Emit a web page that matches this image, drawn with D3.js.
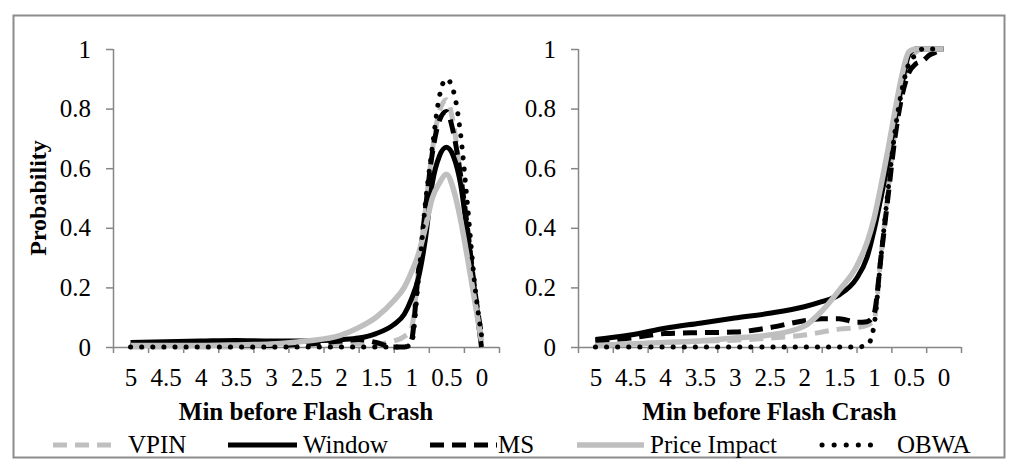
<!DOCTYPE html>
<html>
<head>
<meta charset="utf-8">
<script src="https://cdn.jsdelivr.net/npm/d3@7"></script>
<style>
  html, body { margin: 0; padding: 0; background: #fff; }
  svg { display: block; }
  text { font-family: "Liberation Serif", "Times New Roman", serif; fill: #000; }
</style>
</head>
<body>
<svg id="chart" width="1024" height="473"></svg>
<script>
// ---------- data ----------
const minutes = [5, 4.5, 4, 3.5, 3, 2.5, 2, 1.75, 1.5, 1.25, 1.1, 1, 0.9, 0.8, 0.7, 0.6, 0.5, 0.4, 0.3, 0.2, 0.1, 0];
const xTickLabels = ["5", "4.5", "4", "3.5", "3", "2.5", "2", "1.5", "1", "0.5", "0"];
const xTickValues = [5, 4.5, 4, 3.5, 3, 2.5, 2, 1.5, 1, 0.5, 0];
const yTickValues = [0, 0.2, 0.4, 0.6, 0.8, 1];
const yTickLabels = ["0", "0.2", "0.4", "0.6", "0.8", "1"];
const seriesNames = ["VPIN", "Window", "MS", "Price Impact", "OBWA"];
const xTitle = "Min before Flash Crash";
const yTitle = "Probability";

// left panel (probability density)
const leftVPIN   = [0, 0, 0, 0, 0, 0.005, 0.01, 0.01, 0.01, 0.02, 0.035, 0.06, 0.25, 0.46, 0.66, 0.79, 0.83, 0.75, 0.58, 0.40, 0.20, 0.03];
const leftWindow = [0.015, 0.018, 0.02, 0.022, 0.02, 0.02, 0.025, 0.03, 0.045, 0.075, 0.11, 0.16, 0.23, 0.36, 0.55, 0.64, 0.67, 0.64, 0.55, 0.38, 0.19, 0];
const leftMS     = [0.005, 0.005, 0.005, 0.005, 0.005, 0.01, 0.02, 0.025, 0.015, 0, 0, 0.02, 0.25, 0.46, 0.65, 0.76, 0.79, 0.72, 0.58, 0.40, 0.20, 0.04];
const leftPI     = [0.005, 0.005, 0.005, 0.007, 0.01, 0.02, 0.04, 0.065, 0.10, 0.155, 0.20, 0.25, 0.31, 0.40, 0.50, 0.55, 0.58, 0.53, 0.43, 0.30, 0.16, 0.02];
const leftOBWA   = [0, 0, 0, 0, 0, 0, 0, 0, 0, 0, 0, 0.01, 0.22, 0.48, 0.67, 0.84, 0.90, 0.86, 0.72, 0.48, 0.22, 0.04];

// right panel (cumulative probability)
const rightVPIN   = [0.005, 0.01, 0.015, 0.02, 0.023, 0.03, 0.04, 0.05, 0.06, 0.065, 0.073, 0.09, 0.30, 0.52, 0.72, 0.87, 0.96, 0.99, 1, 1, 1, 1];
const rightWindow = [0.025, 0.04, 0.063, 0.08, 0.097, 0.113, 0.135, 0.152, 0.175, 0.23, 0.30, 0.39, 0.50, 0.62, 0.76, 0.88, 0.98, 1, 1, 1, 1, 1];
const rightMS     = [0.02, 0.03, 0.045, 0.048, 0.05, 0.065, 0.088, 0.095, 0.095, 0.083, 0.085, 0.11, 0.30, 0.50, 0.70, 0.84, 0.92, 0.95, 0.96, 0.98, 0.99, 1];
const rightPI     = [0.005, 0.01, 0.015, 0.02, 0.03, 0.04, 0.07, 0.12, 0.19, 0.27, 0.35, 0.43, 0.54, 0.66, 0.79, 0.91, 0.99, 1, 1, 1, 1, 1];
const rightOBWA   = [0, 0, 0, 0, 0, 0, 0, 0, 0, 0, 0.005, 0.07, 0.30, 0.52, 0.72, 0.86, 0.95, 0.98, 1, 1, 1, 1];

// ---------- styling ----------
const styles = {
  "VPIN":         { color: "#bfbfbf", width: 5,   dash: "14,8",  cap: "butt" },
  "Window":       { color: "#000000", width: 5,   dash: null,    cap: "butt" },
  "MS":           { color: "#000000", width: 5,   dash: "14,8",  cap: "butt" },
  "Price Impact": { color: "#bfbfbf", width: 5.5, dash: null,    cap: "butt" },
  "OBWA":         { color: "#000000", width: 5,   dash: "0.1,11", cap: "round" }
};
const axisColor = "#868686";
const fontSize = 25;

const svg = d3.select("#chart");

// outer border
svg.append("rect")
  .attr("x", 13.5).attr("y", 15.5).attr("width", 991).attr("height", 442)
  .attr("fill", "none").attr("stroke", "#8c8c8c").attr("stroke-width", 2);

function drawPanel(x0, x1, seriesData, showYTitle) {
  const yTop = 49, yBot = 347;
  const x = d3.scaleLinear().domain([5.25, -0.25]).range([x0, x1]);
  const y = d3.scaleLinear().domain([0, 1]).range([yBot, yTop]);
  const g = svg.append("g");

  // y axis
  const yAxis = g.append("g").attr("transform", `translate(${x0},0)`)
    .call(d3.axisLeft(y).tickValues(yTickValues).tickSize(7).tickPadding(15)
      .tickFormat((d, i) => yTickLabels[i]));
  yAxis.select(".domain").attr("stroke", axisColor).attr("stroke-width", 1.5)
    .attr("d", `M0.5,${yTop}V${yBot}`);
  yAxis.selectAll(".tick line").attr("stroke", axisColor).attr("stroke-width", 1.5);
  yAxis.selectAll(".tick text").style("font-size", fontSize + "px")
    .style("font-family", '"Liberation Serif", "Times New Roman", serif').attr("fill", "#000");

  // x axis: boundary tick marks
  const boundaries = d3.range(12).map(i => 5.25 - i * 0.5);
  const xAxisTicks = g.append("g").attr("transform", `translate(0,${yBot})`)
    .call(d3.axisBottom(x).tickValues(boundaries).tickSize(6).tickFormat(""));
  xAxisTicks.select(".domain").attr("stroke", axisColor).attr("stroke-width", 1.5)
    .attr("d", `M${x0},0.5H${x1}`);
  xAxisTicks.selectAll(".tick line").attr("stroke", axisColor).attr("stroke-width", 1.5);

  // x axis: category labels
  const xAxisLabels = g.append("g").attr("transform", `translate(0,${yBot})`)
    .call(d3.axisBottom(x).tickValues(xTickValues).tickSize(0).tickPadding(21)
      .tickFormat((d, i) => xTickLabels[i]));
  xAxisLabels.select(".domain").remove();
  xAxisLabels.selectAll(".tick text").style("font-size", fontSize + "px")
    .style("font-family", '"Liberation Serif", "Times New Roman", serif').attr("fill", "#000");

  // x title
  g.append("text").attr("x", (x0 + x1) / 2).attr("y", 420)
    .attr("text-anchor", "middle").style("font-size", fontSize + "px").style("font-weight", "bold")
    .text(xTitle);

  if (showYTitle) {
    g.append("text").attr("transform", `translate(46,${(yTop + yBot) / 2}) rotate(-90)`)
      .attr("text-anchor", "middle").style("font-size", "24px").style("font-weight", "bold")
      .text(yTitle);
  }

  // lines
  const line = d3.line().x((d, i) => x(minutes[i])).y(d => y(d)).curve(d3.curveMonotoneX);
  seriesNames.forEach((name, k) => {
    const s = styles[name];
    g.append("path").datum(seriesData[k])
      .attr("d", line)
      .attr("fill", "none")
      .attr("stroke", s.color)
      .attr("stroke-width", s.width)
      .attr("stroke-linecap", s.cap)
      .attr("stroke-linejoin", "round")
      .attr("stroke-dasharray", s.dash);
  });
}

drawPanel(113, 499, [leftVPIN, leftWindow, leftMS, leftPI, leftOBWA], true);
drawPanel(578, 961, [rightVPIN, rightWindow, rightMS, rightPI, rightOBWA], false);

// legend
const legendItems = [
  { name: "VPIN",         sx0: 53,  sx1: 113, tx: 128 },
  { name: "Window",       sx0: 228, sx1: 297, tx: 303 },
  { name: "MS",           sx0: 430, sx1: 497, tx: 498 },
  { name: "Price Impact", sx0: 577, sx1: 644, tx: 650 },
  { name: "OBWA",         sx0: 822, sx1: 882, tx: 897 }
];
const legend = svg.append("g");
legendItems.forEach(item => {
  const s = styles[item.name];
  legend.append("line")
    .attr("x1", item.sx0).attr("x2", item.sx1).attr("y1", 445).attr("y2", 445)
    .attr("stroke", s.color).attr("stroke-width", s.width)
    .attr("stroke-linecap", s.cap)
    .attr("stroke-dasharray", item.name === "OBWA" ? "0.1,12" : s.dash);
  legend.append("text").attr("x", item.tx).attr("y", 453)
    .style("font-size", fontSize + "px").text(item.name);
});
</script>
</body>
</html>
